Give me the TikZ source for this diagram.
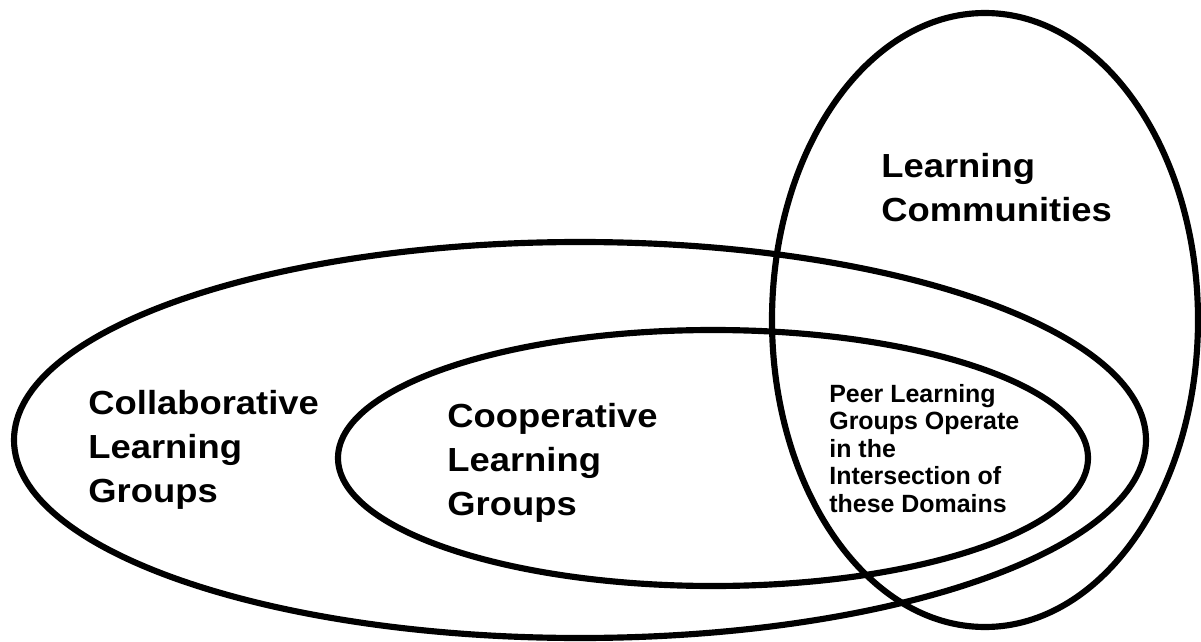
\documentclass[tikz,border=0pt]{standalone}
\usepackage{fontspec}
\setmainfont{Liberation Sans}
\usepackage{tikz}
\tikzset{
	domaintext/.style={font=\fontsize{19}{24.9}\selectfont\bfseries, align=left, inner sep=0pt, anchor=base west, xscale=1.09, transform shape}
}
\tikzset{
	peertext/.style={font=\fontsize{14.2}{15.6}\selectfont\bfseries, align=left, inner sep=0pt, anchor=base west}
}
\tikzset{
	domainline/.style={line width=3.5pt, line join=round}
}

\begin{document}
\begin{tikzpicture}[x=0.02cm, y=-0.02cm]
  \useasboundingbox (0,0) rectangle (1201,642);
  \draw[domainline] (580,440) ellipse [x radius=566, y radius=198];
  \draw[domainline] (713,458) ellipse [x radius=375, y radius=128];
  \draw[domainline] (985,320) ellipse [x radius=213, y radius=307];
  % anchors sit on the last line's baseline
  \node[domaintext] (collab) at (88,502) {Collaborative\\Learning\\Groups};
  \node[domaintext] (coop) at (447,515) {Cooperative\\Learning\\Groups};
  \node[domaintext] (community) at (881,221) {Learning\\Communities};
  \node[peertext] (peer) at (829,512) {Peer Learning\\Groups Operate\\in the\\Intersection of\\these Domains};
\end{tikzpicture}
\end{document}
